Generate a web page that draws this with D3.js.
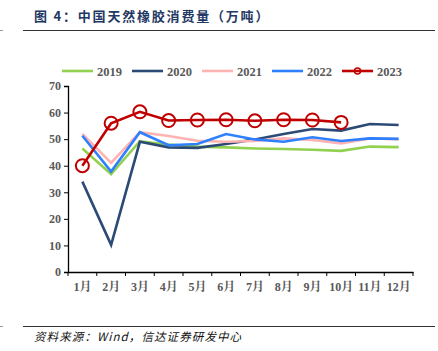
<!DOCTYPE html>
<html>
<head>
<meta charset="utf-8">
<script src="https://cdn.jsdelivr.net/npm/d3@7"></script>
<style>
  body { margin: 0; background: #fff; }
  svg { display: block; }
</style>
</head>
<body>
<script>
const months = ["1月","2月","3月","4月","5月","6月","7月","8月","9月","10月","11月","12月"]
const yTicks = [0, 10, 20, 30, 40, 50, 60, 70]
const years = ["2019","2020","2021","2022","2023"]
const v2019 = [46.5, 36.8, 49.2, 48.0, 47.2, 46.9, 46.5, 46.3, 46.0, 45.6, 47.2, 47.0]
const v2020 = [34.0, 10.2, 49.0, 46.9, 46.7, 48.2, 49.9, 51.9, 53.8, 53.2, 55.7, 55.3]
const v2021 = [52.0, 41.1, 52.6, 51.2, 49.4, 49.0, 49.3, 50.3, 49.7, 48.4, 50.3, 50.0]
const v2022 = [51.3, 37.8, 52.6, 47.7, 48.2, 51.9, 49.9, 49.0, 50.7, 49.3, 50.3, 50.1]
const v2023 = [40.0, 56.0, 60.3, 57.0, 57.2, 57.3, 56.9, 57.3, 57.2, 56.3]
const colors = ["#92d050", "#2c4a76", "#ffb3b3", "#2f80ff", "#c00000"]

const W = 438, H = 351
const svg = d3.select("body").append("svg").attr("width", W).attr("height", H)

// title + rules
svg.append("text")
    .attr("x", 34).attr("y", 21)
    .attr("fill", "#1f3864")
    .style("font-family", "'Noto Sans CJK SC', sans-serif")
    .style("font-weight", "bold")
    .style("font-size", "13px")
    .style("letter-spacing", "1.8px")
    .text("图 4：中国天然橡胶消费量（万吨）")
svg.append("line").attr("x1", 23).attr("x2", 435).attr("y1", 30.5).attr("y2", 30.5)
    .attr("stroke", "#333").attr("stroke-width", 1)
svg.append("line").attr("x1", 0).attr("x2", 3).attr("y1", 30.5).attr("y2", 30.5)
    .attr("stroke", "#999").attr("stroke-width", 1)
svg.append("line").attr("x1", 23).attr("x2", 435).attr("y1", 326.5).attr("y2", 326.5)
    .attr("stroke", "#333").attr("stroke-width", 1)
svg.append("line").attr("x1", 0).attr("x2", 3).attr("y1", 326.5).attr("y2", 326.5)
    .attr("stroke", "#999").attr("stroke-width", 1)
svg.append("text")
    .attr("x", 34).attr("y", 341)
    .attr("fill", "#111")
    .style("font-family", "'Noto Sans CJK SC', sans-serif")
    .style("font-style", "italic")
    .style("font-size", "11.5px")
    .style("letter-spacing", "1.1px")
    .text("资料来源：Wind，信达证券研发中心")

// chart
let margin = {top: 86, left: 68}
let width = 413 - 68, height = 272 - 86
let g = svg.append("g").attr("transform", "translate(" + margin.left + "," + margin.top + ")")

let x = d3.scaleBand().domain(months).range([0, width])
let y = d3.scaleLinear().domain([0, 70]).range([height, 0])

let yAxis = g.append("g")
    .call(d3.axisLeft(y).tickValues(yTicks).tickSize(4).tickPadding(3))
let xAxis = g.append("g")
    .attr("transform", "translate(0," + height + ")")
    .call(d3.axisBottom(x).tickSize(0).tickPadding(10))
// ticks between bands
xAxis.selectAll(".sep")
    .data(d3.range(months.length + 1))
    .enter().append("line")
    .attr("class", "sep")
    .attr("x1", d => d * x.step()).attr("x2", d => d * x.step())
    .attr("y1", 0).attr("y2", 4)
    .attr("stroke", "#000")

svg.selectAll(".domain").attr("stroke", "#000").attr("stroke-width", 1.3)
svg.selectAll(".tick line").attr("stroke", "#000")
svg.selectAll(".tick text")
    .attr("fill", "#595959")
    .style("font-family", "'Liberation Serif', 'Noto Serif CJK SC', serif")
    .style("font-weight", "bold")
    .style("font-size", "12px")
xAxis.selectAll(".tick text").attr("dy", "0.71em")

const series = [v2019, v2020, v2021, v2022, v2023]
let line = d3.line()
    .x((d, i) => x(months[i]) + x.bandwidth() / 2)
    .y(d => y(d))

series.forEach((s, k) => {
    g.append("path")
        .datum(s)
        .attr("d", line)
        .attr("fill", "none")
        .attr("stroke", colors[k])
        .attr("stroke-width", 2.6)
})

g.selectAll(".mark")
    .data(v2023)
    .enter().append("circle")
    .attr("cx", (d, i) => x(months[i]) + x.bandwidth() / 2)
    .attr("cy", d => y(d))
    .attr("r", 6.5)
    .attr("fill", "none")
    .attr("stroke", colors[4])
    .attr("stroke-width", 2)

// legend
const legendX = [62, 132, 202, 272, 342]
let leg = svg.append("g")
years.forEach((yr, k) => {
    leg.append("line")
        .attr("x1", legendX[k]).attr("x2", legendX[k] + 31)
        .attr("y1", 71).attr("y2", 71)
        .attr("stroke", colors[k]).attr("stroke-width", 2.6)
    if (k == 4) {
        leg.append("circle")
            .attr("cx", legendX[k] + 15.5).attr("cy", 71).attr("r", 3)
            .attr("fill", "none").attr("stroke", colors[k]).attr("stroke-width", 1.5)
    }
    leg.append("text")
        .attr("x", legendX[k] + 35).attr("y", 75.5)
        .attr("fill", "#595959")
        .style("font-family", "'Liberation Serif', serif")
        .style("font-weight", "bold")
        .style("font-size", "12.5px")
        .text(yr)
})
</script>
</body>
</html>
